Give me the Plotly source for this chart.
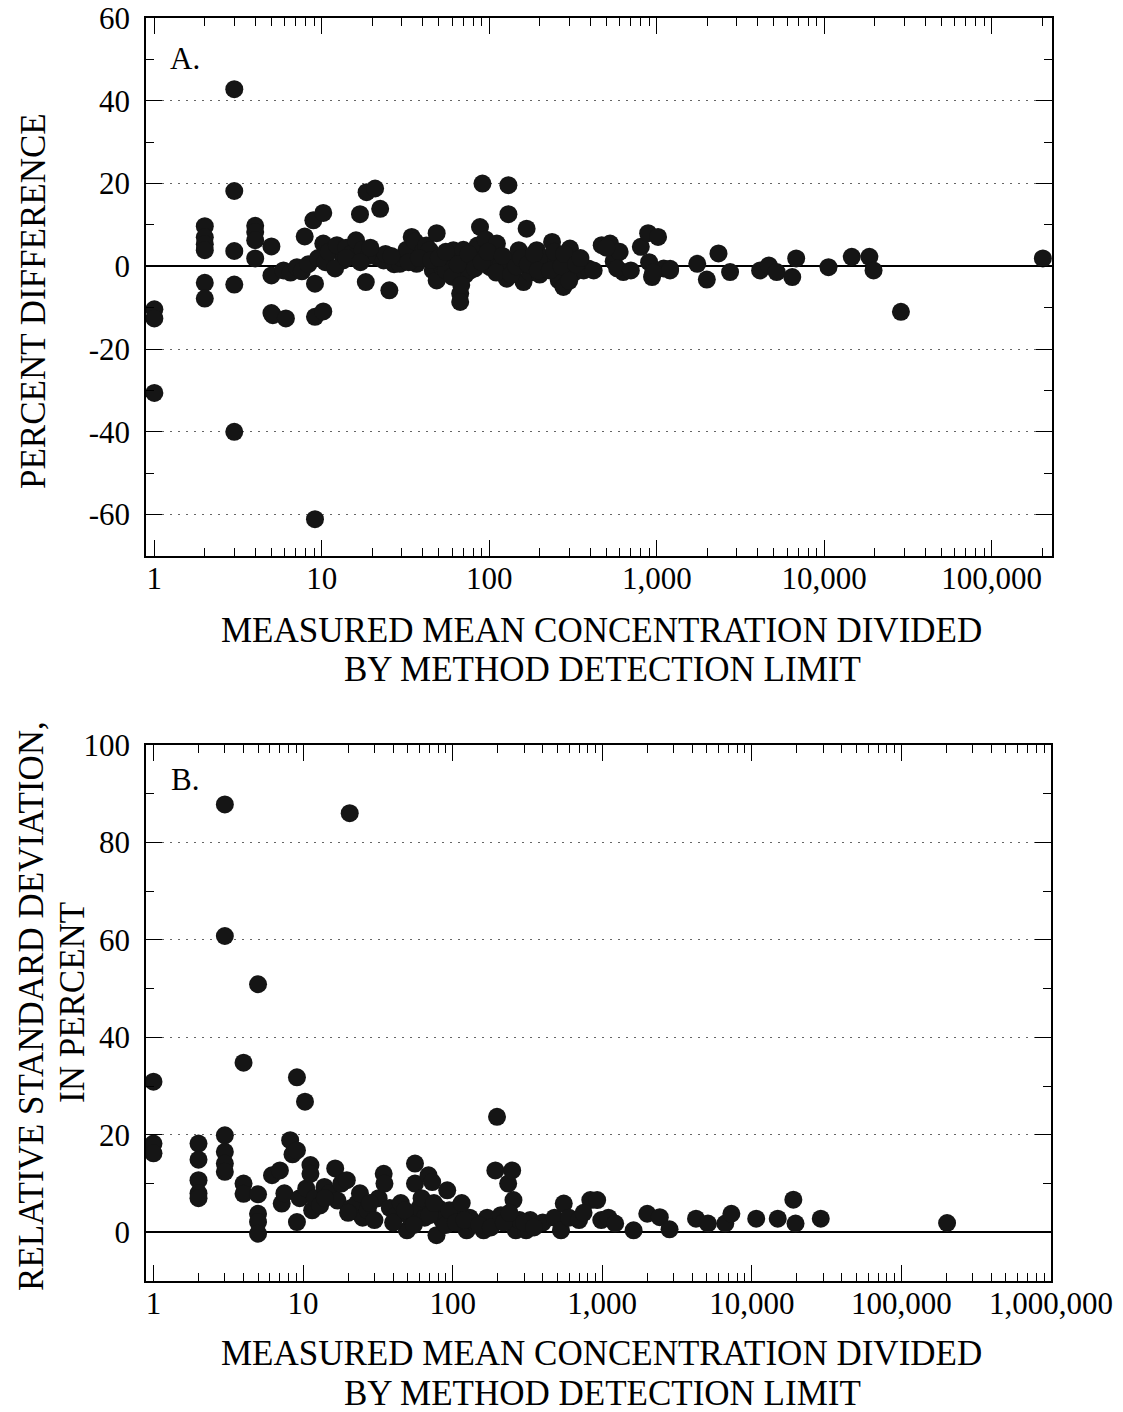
import plotly.graph_objects as go

# ---------------- Panel A data: percent difference ----------------
a_ratio = [1, 1, 1,
           2, 2, 2, 2, 2, 2,
           3, 3, 3, 3, 3,
           4, 4, 4, 4,
           5, 5, 5, 5.1, 6.1,
           5.9, 6.5, 7.1, 7.6, 7.9, 8.3, 8.9, 9.1, 9.1, 9.1, 9.5, 10.2, 10.2, 10.2, 10.5,
           11, 12.3, 13.4, 14, 15, 16, 16.9, 17.5, 18.3, 18.5, 19, 20.8, 21.3, 22.3, 23.4, 24,
           25.3, 27, 29.2, 30, 32, 34.4, 36, 36.8, 40, 42, 44, 46, 48.5, 48.5, 52, 55, 58, 61,
           64, 67, 67, 70, 72, 77, 80, 85, 88, 88, 91, 95, 101, 105, 111, 118, 127, 130, 130,
           140, 150, 160, 160, 167, 175, 192, 200, 210, 220, 237, 250, 260, 277, 290, 303, 320,
           366, 390, 469, 526, 553, 600, 631, 803, 888, 937, 1018, 1100, 1202, 1745, 1990, 2336,
           2740, 4140, 4670, 5200, 6440, 6800, 10600, 14600, 18600, 19700, 28700, 202000,
           12, 14, 17, 19.5, 26, 33, 38, 45, 50, 55, 60, 65, 68, 75, 82, 90, 98, 110, 120, 135,
           145, 155, 170, 185, 195, 230, 245, 270, 280, 300, 330, 350, 420, 500, 580, 700, 900,
           950, 1200]
a_pct = [-10.4, -12.6, -30.6,
         9.7, 7.0, 5.3, 3.9, -4.0, -7.8,
         42.8, 18.2, 3.7, -4.4, -40.0,
         9.8, 8.3, 6.3, 1.9,
         4.8, -2.2, -11.3, -11.8, -12.6,
         -1.0, -1.5, -0.2, -1.2, 7.2, 0.5, 11.1, -4.2, -12.2, -61.1, 2.0, 12.9, 5.5, -10.9, 1.0,
         3.5, 5.1, 1.4, 4.5, 3.0, 6.3, 12.6, 4.0, -3.8, 17.9, 2.5, 18.8, 2.3, 13.9, 1.4, 3.0,
         -5.8, 0.5, 0.6, 2.0, 4.0, 7.1, 6.0, 0.6, 3.5, 5.0, 3.9, -1.0, 8.0, -3.4, 0.0, -1.0, 2.5, 3.9,
         1.0, -6.6, -8.6, 4.0, -2.0, -1.0, 2.0, 5.0, 9.5, 1.4, 20.0, 6.5, -0.2, 3.0, 5.5, 0.5, -3.0, 19.6, 12.6,
         1.5, 3.9, -3.8, 1.4, 9.1, -1.5, 3.9, -2.0, 0.6, 2.0, 5.9, 1.0, -3.4, -5.0, 2.0, 4.3, -1.5,
         -1.0, -0.5, 5.1, 5.5, 1.2, 3.5, -1.4, 4.7, 8.0, -2.6, 7.1, -0.5, -0.6, 0.6, -3.2, 3.1,
         -1.4, -1.0, 0.2, -1.4, -2.6, 1.9, -0.2, 2.3, 2.3, -1.0, -11.0, 1.9,
         -0.5, 2.0, 1.0, 4.5, 2.5, 1.0, 2.0, 1.5, 2.0, 3.5, -2.5, 0.5, -4.5, 3.0, -0.5, 1.0, 3.5, -1.5, 2.5, -2.0,
         0.0, 2.0, 0.5, 3.0, -1.0, -1.0, 3.5, 0.0, 3.0, -3.5, 0.5, 2.0, -1.0, 4.5, -0.5, -1.0, 1.0,
         -1.5, -1.0]

# ---------------- Panel B data: relative standard deviation ----------------
b_ratio = [1, 1, 1,
           2, 2, 2, 2, 2,
           3, 3, 3, 3, 3, 3,
           4, 4, 4,
           5, 5, 5, 5, 5,
           6.2, 7, 7.2, 7.5, 8.2, 8.5, 9.1, 9.1, 9.1, 9.5, 10.3, 10.5, 11.2, 11.2, 11.5, 12, 13,
           13.9, 15, 16.4, 17, 18, 19.6, 20.5, 21, 22.9, 25, 27, 30, 32, 34.6, 35, 38, 42, 45,
           49.5, 52, 56, 56, 60, 65, 69, 73, 78, 80, 85, 92, 100, 110, 124, 130, 140, 161, 170,
           193, 198, 210, 235, 250, 255, 264, 280, 310, 330, 400, 480, 530, 553, 600, 832, 925,
           985, 1100, 1220, 1620, 2000, 2426, 2818, 4236, 5090, 6650, 7300, 10700, 14900, 18950,
           19600, 28900, 202000,
           14, 20, 24, 28, 40, 48, 55, 62, 70, 75, 90, 95, 105, 115, 120, 150, 180, 220, 240,
           300, 350, 700, 750]
b_rsd = [30.9, 18.2, 16.2,
         18.2, 14.9, 10.7, 8.0, 7.0,
         87.8, 60.8, 19.9, 16.5, 14.1, 12.4,
         34.8, 10.0, 7.9,
         50.9, 7.8, 3.8, 2.1, -0.3,
         11.7, 12.7, 5.9, 8.0, 18.9, 16.0, 16.8, 31.8, 2.1, 7.0, 26.8, 9.0, 13.8, 12.0, 4.5, 7.0, 5.5,
         9.3, 8.0, 13.1, 6.5, 10.0, 10.7, 86.0, 5.0, 5.9, 3.0, 4.5, 2.5, 7.0, 12.0, 10.0, 5.0, 3.5, 6.0,
         0.4, 3.0, 14.1, 10.0, 5.0, 3.0, 11.7, 10.3, -0.6, 5.0, 2.5, 8.6, 3.5, 5.0, 0.4, 3.0, 2.0, 0.4, 3.0,
         12.7, 23.7, 3.5, 10.0, 12.7, 6.6, 0.4, 2.5, 0.4, 2.5, 2.0, 3.0, 0.4, 5.9, 3.0, 6.6, 6.6,
         2.5, 3.0, 1.8, 0.4, 3.8, 3.1, 0.6, 2.8, 1.8, 1.8, 3.8, 2.8, 2.8, 6.7,
         1.8, 2.8, 1.9,
         7.0, 4.0, 8.0, 6.0, 2.0, 4.5, 1.5, 7.0, 3.5, 6.0, 1.5, 4.5, 2.0, 6.0, 2.5, 1.5, 1.0, 2.0, 4.0,
         2.0, 1.0, 2.5, 4.0]

# ---------------- tick labels ----------------
a_xtick_vals = [1, 10, 100, 1000, 10000, 100000]
a_xtick_text = ["1", "10", "100", "1,000", "10,000", "100,000"]
b_xtick_vals = [1, 10, 100, 1000, 10000, 100000, 1000000]
b_xtick_text = ["1", "10", "100", "1,000", "10,000", "100,000", "1,000,000"]
a_ytick_vals = [-60, -40, -20, 0, 20, 40, 60]
a_ytick_text = ["-60", "-40", "-20", "0", "20", "40", "60"]
b_ytick_vals = [0, 20, 40, 60, 80, 100]
b_ytick_text = ["0", "20", "40", "60", "80", "100"]

x_title_1 = "MEASURED MEAN CONCENTRATION DIVIDED"
x_title_2 = "BY METHOD DETECTION LIMIT"
a_y_title = "PERCENT DIFFERENCE"
b_y_title_1 = "RELATIVE STANDARD DEVIATION,"
b_y_title_2 = "IN PERCENT"

W, H = 1123, 1412
FONT = "Liberation Serif, Times New Roman, serif"
INK = "#151515"

minor_log = [m * 10 ** k for k in range(0, 6) for m in range(2, 10)]


def px(x):
    return x / W


def py(y):
    return 1 - y / H


fig = go.Figure()
fig.add_trace(go.Scatter(x=a_ratio, y=a_pct, mode="markers", xaxis="x", yaxis="y",
                         marker=dict(size=18, color=INK, line=dict(width=0)),
                         showlegend=False, cliponaxis=True))
fig.add_trace(go.Scatter(x=b_ratio, y=b_rsd, mode="markers", xaxis="x2", yaxis="y2",
                         marker=dict(size=18, color=INK, line=dict(width=0)),
                         showlegend=False, cliponaxis=True))

common_x = dict(type="log", showline=True, linecolor="black", linewidth=1.5, mirror="ticks",
                automargin=False,
                ticks="inside", ticklen=16, tickwidth=1.2, tickcolor="black", showgrid=False,
                zeroline=False, tickfont=dict(family=FONT, size=31, color="black"),
                ticklabelstandoff=-6,
                minor=dict(ticks="inside", ticklen=8, tickwidth=1.2, tickcolor="black",
                           tickvals=minor_log, showgrid=False))
common_y = dict(showline=True, linecolor="black", linewidth=1.5, mirror="ticks",
                automargin=False,
                ticks="inside", ticklen=16, tickwidth=1.2, tickcolor="black",
                showgrid=True, gridcolor="#666666", griddash="2px,6px", gridwidth=1.2,
                zeroline=True, zerolinecolor="black", zerolinewidth=1.5,
                tickfont=dict(family=FONT, size=31, color="black"), ticklabelstandoff=8,
                minor=dict(ticks="inside", ticklen=8, tickwidth=1.2, tickcolor="black",
                           dtick=10, showgrid=False))

fig.update_layout(
    template="none",
    width=W, height=H, autosize=False,
    margin=dict(l=0, r=0, t=0, b=0, pad=0),
    paper_bgcolor="white", plot_bgcolor="white",
    font=dict(family=FONT, color="black"),
    showlegend=False,
    xaxis=dict(common_x, domain=[px(146), px(1052)], range=[-0.05, 5.36], anchor="y",
               tickvals=a_xtick_vals, ticktext=a_xtick_text),
    yaxis=dict(common_y, domain=[py(556), py(18)], range=[-70, 60], anchor="x",
               tickvals=a_ytick_vals, ticktext=a_ytick_text),
    xaxis2=dict(common_x, domain=[px(146), px(1051)], range=[-0.05, 6.0], anchor="y2",
                tickvals=b_xtick_vals, ticktext=b_xtick_text),
    yaxis2=dict(common_y, domain=[py(1281), py(745)], range=[-10, 100], anchor="x2",
                tickvals=b_ytick_vals, ticktext=b_ytick_text),
)


def note(text, x, y, angle=0, size=35):
    return dict(text=text, x=px(x), y=py(y), xref="paper", yref="paper", showarrow=False,
                xanchor="center", yanchor="middle", textangle=angle,
                font=dict(family=FONT, size=size, color="black"))


ann = [
    note("A.", 185, 58, size=31),
    note("B.", 185, 779, size=31),
    note(x_title_1, 601, 630),
    note(x_title_2, 602, 669),
    note(x_title_1, 601, 1353),
    note(x_title_2, 602, 1393),
    note(a_y_title, 33, 301, angle=-90),
    note(b_y_title_1, 31, 1006, angle=-90),
    note(b_y_title_2, 72, 1003, angle=-90),
]
fig.update_layout(annotations=ann)

fig.write_html("out.html")
